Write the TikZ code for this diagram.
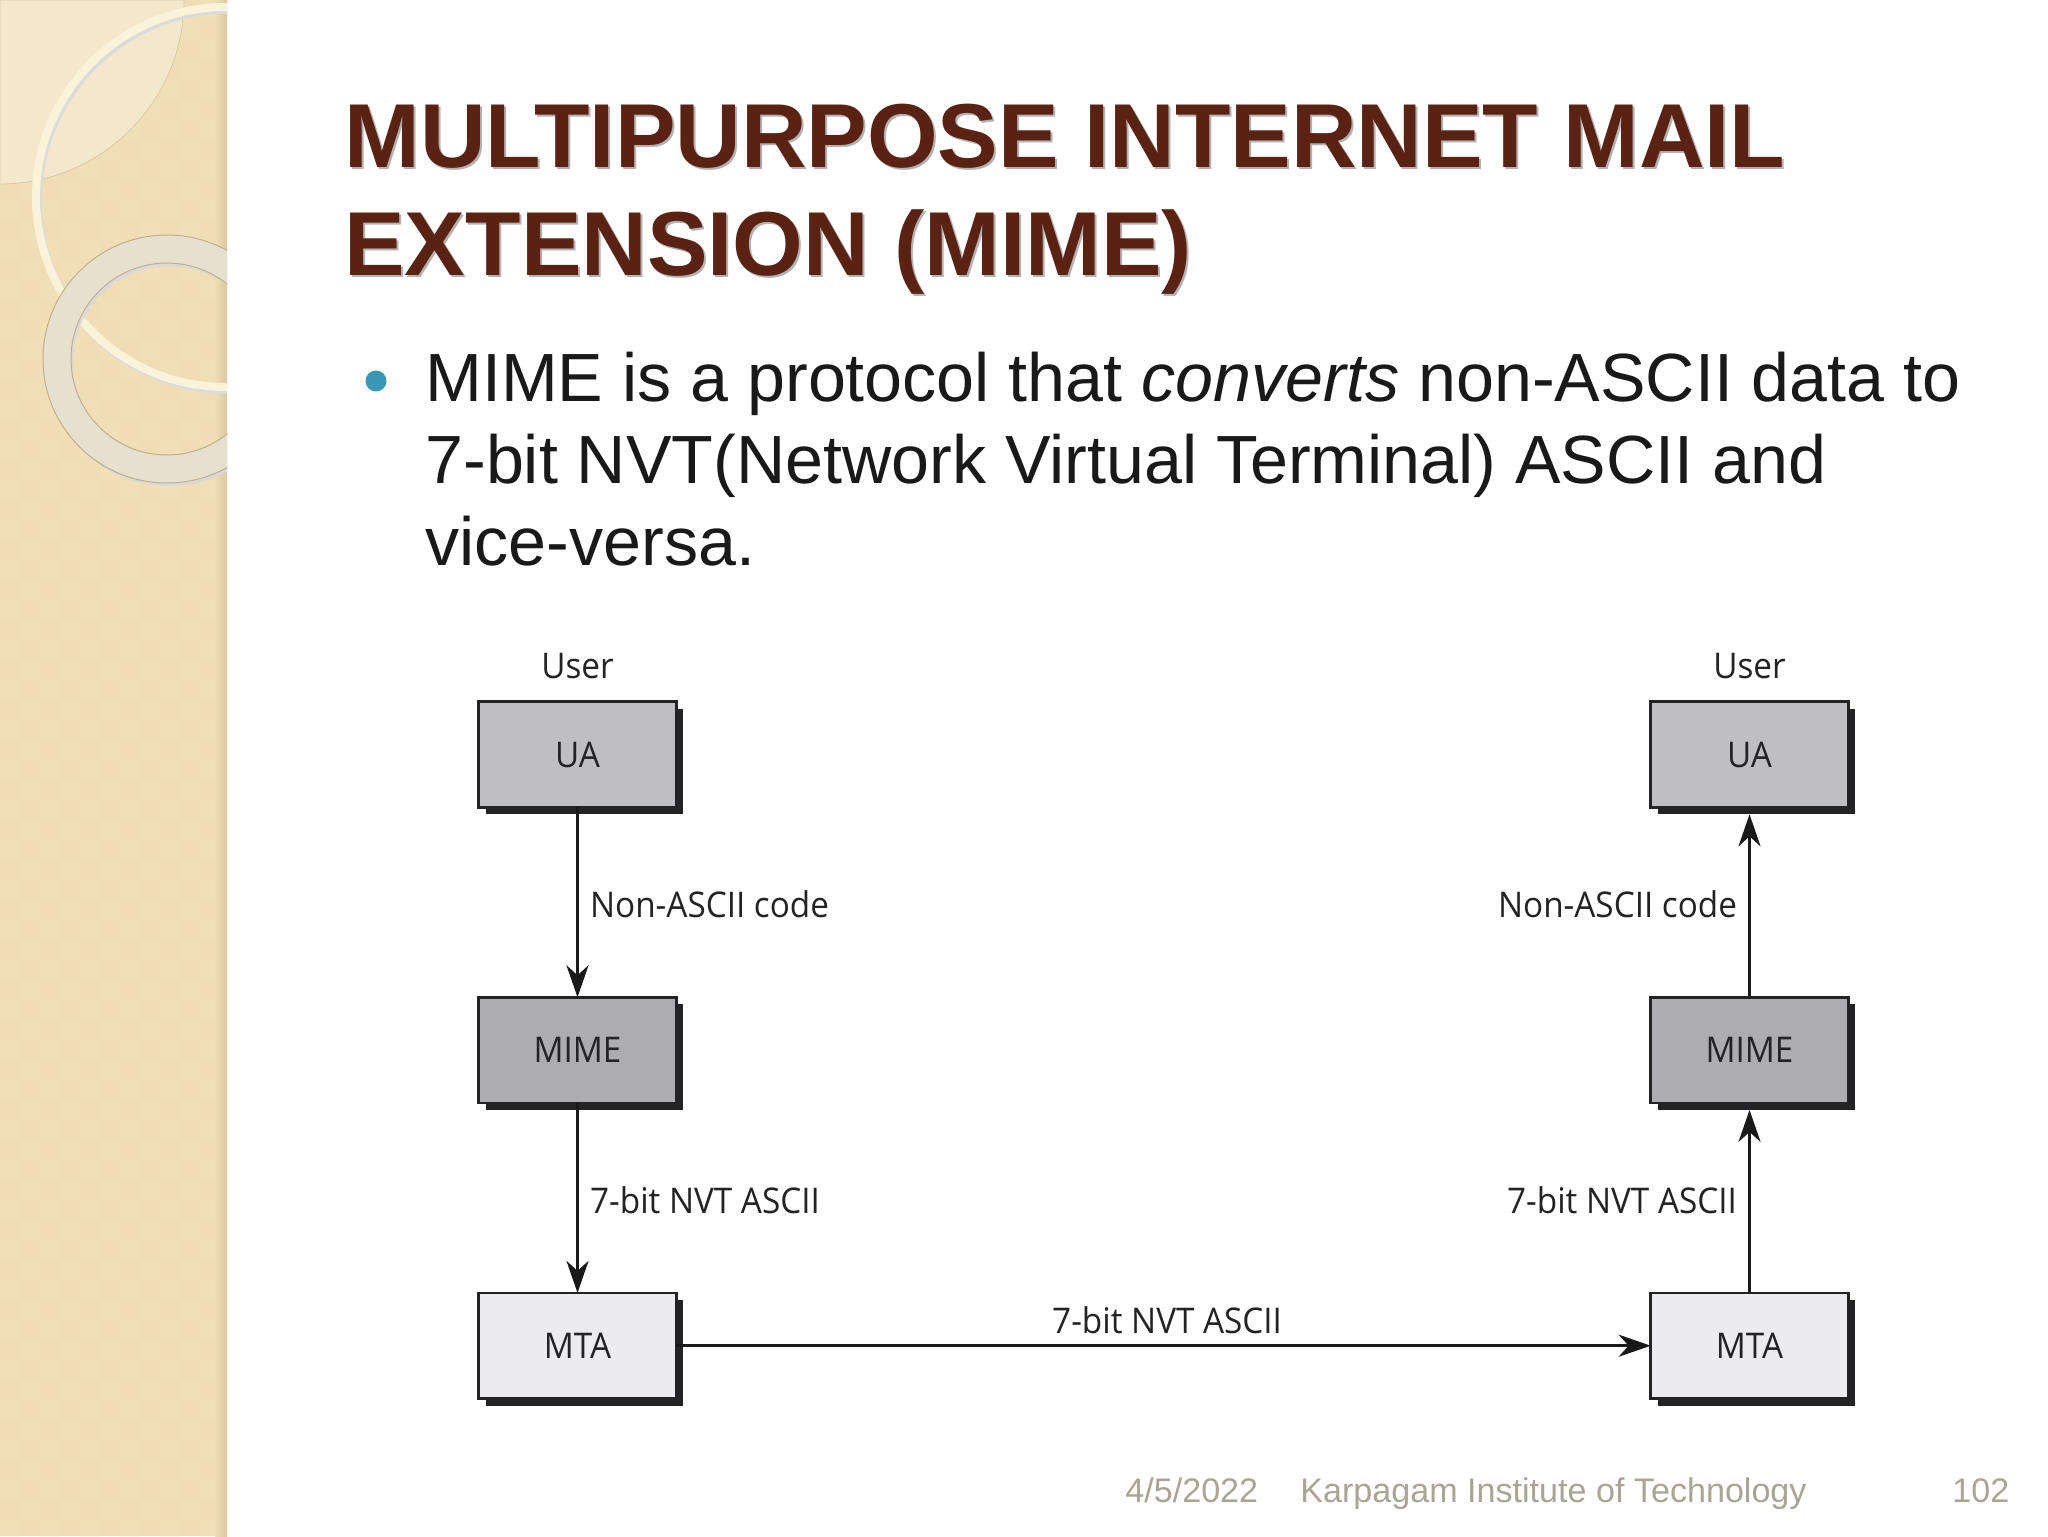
\documentclass[tikz,border=0pt]{standalone}
\usepackage{fontspec}
\setmainfont{Liberation Sans}
\newfontfamily\figfont[FakeStretch=0.94]{Open Sans}
\usetikzlibrary{arrows.meta, positioning, shadows}
\definecolor{sidebar}{HTML}{F0DDB5}
\definecolor{sidedot}{HTML}{F5E7C6}
\definecolor{sideedge}{HTML}{D9C8A2}
\definecolor{sidelight}{HTML}{F3E8CB}
\definecolor{ringpale}{HTML}{FBF2DA}
\definecolor{ringgrey}{HTML}{E8E0CF}
\definecolor{ringedge}{HTML}{BFB08C}
\definecolor{titlered}{HTML}{5A2212}
\definecolor{bullet}{HTML}{3A97B5}
\definecolor{footer}{HTML}{A9A595}
\definecolor{boxedge}{HTML}{232326}
\definecolor{uagrey}{HTML}{BFBEC0}
\definecolor{mimegrey}{HTML}{ADACAF}
\definecolor{mtagrey}{HTML}{ECEBEE}
\begin{document}
\begin{tikzpicture}[
    x=0.5pt, y=-0.5pt,
    node distance=95pt,
    agent/.style={rectangle, draw=boxedge, line width=1.3pt, minimum width=98.8pt, minimum height=52.8pt, outer sep=0pt, inner sep=0pt,
        font=\figfont\fontsize{17.7}{21}\selectfont, text=boxedge,
        drop shadow={shadow xshift=3.5pt, shadow yshift=-3.5pt, fill=boxedge, opacity=1}},
    ua/.style={agent, fill=uagrey},
    mime/.style={agent, fill=mimegrey},
    mta/.style={agent, fill=mtagrey},
    tag/.style={font=\figfont\fontsize{17.7}{21}\selectfont, text=boxedge, inner sep=0pt},
    arrow/.style={-{Stealth[length=16pt, width=11pt, inset=5pt]}, line width=1.6pt, black!90},
    footnote/.style={font=\fontsize{17.05}{21}\selectfont, text=footer, inner sep=0pt, anchor=base west}
]
\useasboundingbox (0,0) rectangle (2048,1536);
\fill[white] (0,0) rectangle (2048,1536);

% Sidebar
\begin{scope}
\clip (0,0) rectangle (227,1536);
\fill[sidebar] (0,0) rectangle (227,1536);
\foreach \i in {0,...,11}
  \foreach \j in {0,...,76} {
    \pgfmathtruncatemacro{\dotodd}{mod(\i+\j,2)}
    \ifnum\dotodd=0 \fill[sidedot, opacity=0.22] (20*\i,20*\j) rectangle ++(20,20); \fi
  }
\fill[left color=sidebar, right color=sideedge] (215,0) rectangle (227,1536);
\filldraw[sidelight, draw=sideedge, line width=0.4pt] (0,0) -- (184,0) arc[start angle=0, end angle=90, radius=184] -- cycle;
\draw[black!14, line width=4pt] (228,200) circle[radius=190];
\draw[ringpale, line width=4pt] (226,197) circle[radius=190];
\fill[black!15, even odd rule] (169,362) circle[radius=124] (169,362) circle[radius=96];
\filldraw[ringgrey, draw=ringedge, line width=0.5pt, even odd rule] (167,359) circle[radius=124] (167,359) circle[radius=96];
\end{scope}

% Title and bullet
\node[inner sep=0pt, anchor=north west, align=left, text=black!30, font=\bfseries\fontsize{45.4}{54}\selectfont] (titleshade) at (346,106) {MULTIPURPOSE INTERNET MAIL\\EXTENSION (MIME)};
\node[inner sep=0pt, anchor=north west, align=left, text=titlered, font=\bfseries\fontsize{45.4}{54}\selectfont] (title) at (344,104) {MULTIPURPOSE INTERNET MAIL\\EXTENSION (MIME)};
\node[circle, fill=bullet, minimum size=10.5pt, inner sep=0pt] (dot) at (376,381) {};
\node[inner sep=0pt, anchor=north west, align=left, font=\fontsize{34.1}{41}\selectfont, text=black!90] (body) at (425,352) {MIME is a protocol that \textit{converts} non-ASCII data to\\7-bit NVT(Network Virtual Terminal) ASCII and\\vice-versa.};

% Left column
\node[ua] (ualeft) at (577.5,754.5) {UA};
\node[mime, below=of ualeft] (mimeleft) {MIME};
\node[mta, below=of mimeleft] (mtaleft) {MTA};

% Right column
\node[mta, right=487.2pt of mtaleft] (mtaright) {MTA};
\node[mime, above=of mtaright] (mimeright) {MIME};
\node[ua, above=of mimeright] (uaright) {UA};

% User labels
\node[tag, above=11pt of ualeft] (userleft) {User};
\node[tag, above=11pt of uaright] (userright) {User};

% Arrows
\draw[arrow] (ualeft) -- node[tag, right=5.5pt, yshift=-1pt] (codeleft) {Non-ASCII code} (mimeleft);
\draw[arrow] (mimeleft) -- node[tag, right=5.5pt, yshift=-1pt] (nvtleft) {7-bit NVT ASCII} (mtaleft);
\draw[arrow] (mtaleft) -- node[tag, above=5pt, xshift=1.8pt] (nvtmiddle) {7-bit NVT ASCII} (mtaright);
\draw[arrow, shorten >=3.5pt] (mtaright) -- node[tag, left=5.5pt, yshift=-1pt] (nvtright) {7-bit NVT ASCII} (mimeright);
\draw[arrow, shorten >=3.5pt] (mimeright) -- node[tag, left=5.5pt, yshift=-1pt] (coderight) {Non-ASCII code} (uaright);

% Footer
\node[footnote] (date) at (1125,1502) {4/5/2022};
\node[footnote] (school) at (1300,1502) {Karpagam Institute of Technology};
\node[footnote] (page) at (1952,1502) {102};
\end{tikzpicture}
\end{document}
